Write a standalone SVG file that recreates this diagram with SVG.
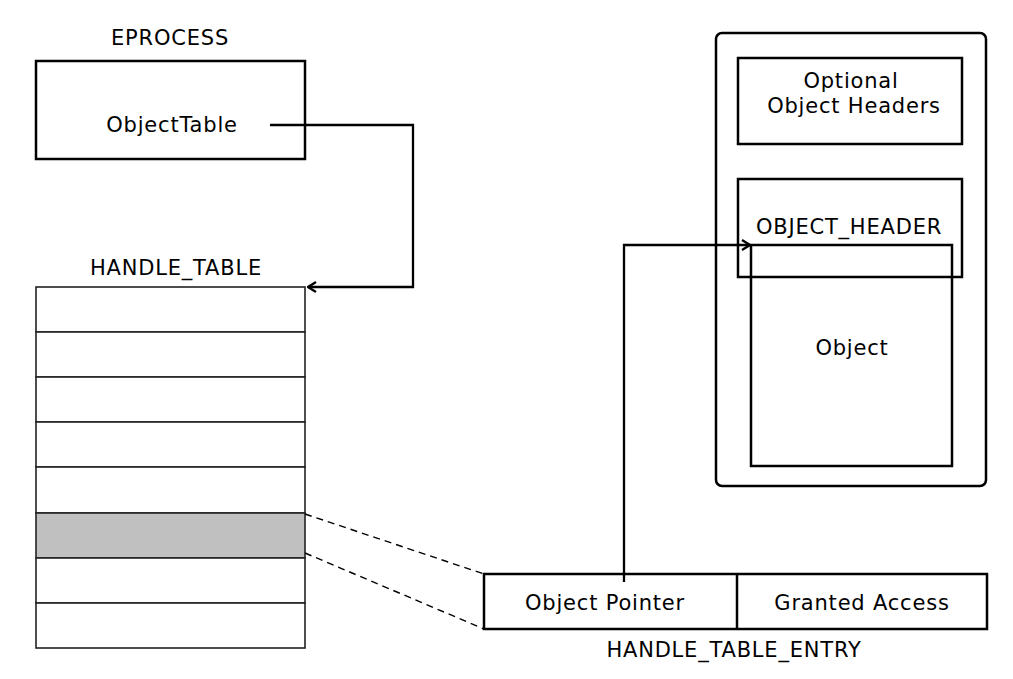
<svg xmlns="http://www.w3.org/2000/svg" width="1013" height="679" viewBox="0 0 1013 679">
<defs>
<style>
text{font-family:"DejaVu Sans",Verdana,sans-serif;font-size:21px;letter-spacing:0.8px;fill:#000;text-anchor:middle}
.box{fill:none;stroke:#000;stroke-width:2.5}
.tbl{fill:#fff;stroke:#222;stroke-width:1.6}
.conn{fill:none;stroke:#000;stroke-width:2.3}
.dash{fill:none;stroke:#000;stroke-width:1.4;stroke-dasharray:7,5}
</style>
<marker id="arr" viewBox="0 0 10 12" refX="9" refY="6" markerWidth="10" markerHeight="12" markerUnits="userSpaceOnUse" orient="auto">
<path d="M1,1 L9,6 L1,11" fill="none" stroke="#000" stroke-width="2.3"/>
</marker>
</defs>
<rect width="1013" height="679" fill="#fff"/>
<g id="eprocess">
<text x="170" y="45">EPROCESS</text>
<rect class="box" x="36" y="61" width="269" height="98"/>
<text x="172" y="132">ObjectTable</text>
</g>
<g id="handle_table">
<text x="176" y="275">HANDLE_TABLE</text>
<rect class="tbl" x="36" y="287" width="269" height="45"/>
<rect class="tbl" x="36" y="332" width="269" height="45"/>
<rect class="tbl" x="36" y="377" width="269" height="45"/>
<rect class="tbl" x="36" y="422" width="269" height="45"/>
<rect class="tbl" x="36" y="467" width="269" height="46"/>
<rect class="tbl" x="36" y="513" width="269" height="45" style="fill:#c0c0c0"/>
<rect class="tbl" x="36" y="558" width="269" height="45"/>
<rect class="tbl" x="36" y="603" width="269" height="45"/>
</g>
<g id="object_container">
<rect class="box" x="716" y="33" width="270" height="453" rx="6"/>
</g>
<g id="optional_headers">
<rect class="box" x="738" y="58" width="224" height="86"/>
<text x="851" y="88">Optional</text>
<text x="854" y="113">Object Headers</text>
</g>
<g id="object_header">
<rect class="box" x="738" y="179" width="224" height="98"/>
<text x="849" y="234">OBJECT_HEADER</text>
</g>
<g id="object">
<rect class="box" x="751" y="245" width="201" height="221"/>
<text x="852" y="355">Object</text>
</g>
<g id="handle_table_entry">
<rect class="box" x="484" y="574" width="503" height="55"/>
<line class="box" x1="737" y1="574" x2="737" y2="629"/>
<text x="605" y="610">Object Pointer</text>
<text x="862" y="610">Granted Access</text>
<text x="734" y="657">HANDLE_TABLE_ENTRY</text>
</g>
<g id="connectors">
<path class="conn" d="M270,125 H413 V287 H308" marker-end="url(#arr)"/>
<path class="conn" d="M624,582 V245 H750" marker-end="url(#arr)"/>
<line class="dash" x1="305" y1="514" x2="484" y2="574"/>
<line class="dash" x1="305" y1="553" x2="484" y2="629"/>
</g>
</svg>
